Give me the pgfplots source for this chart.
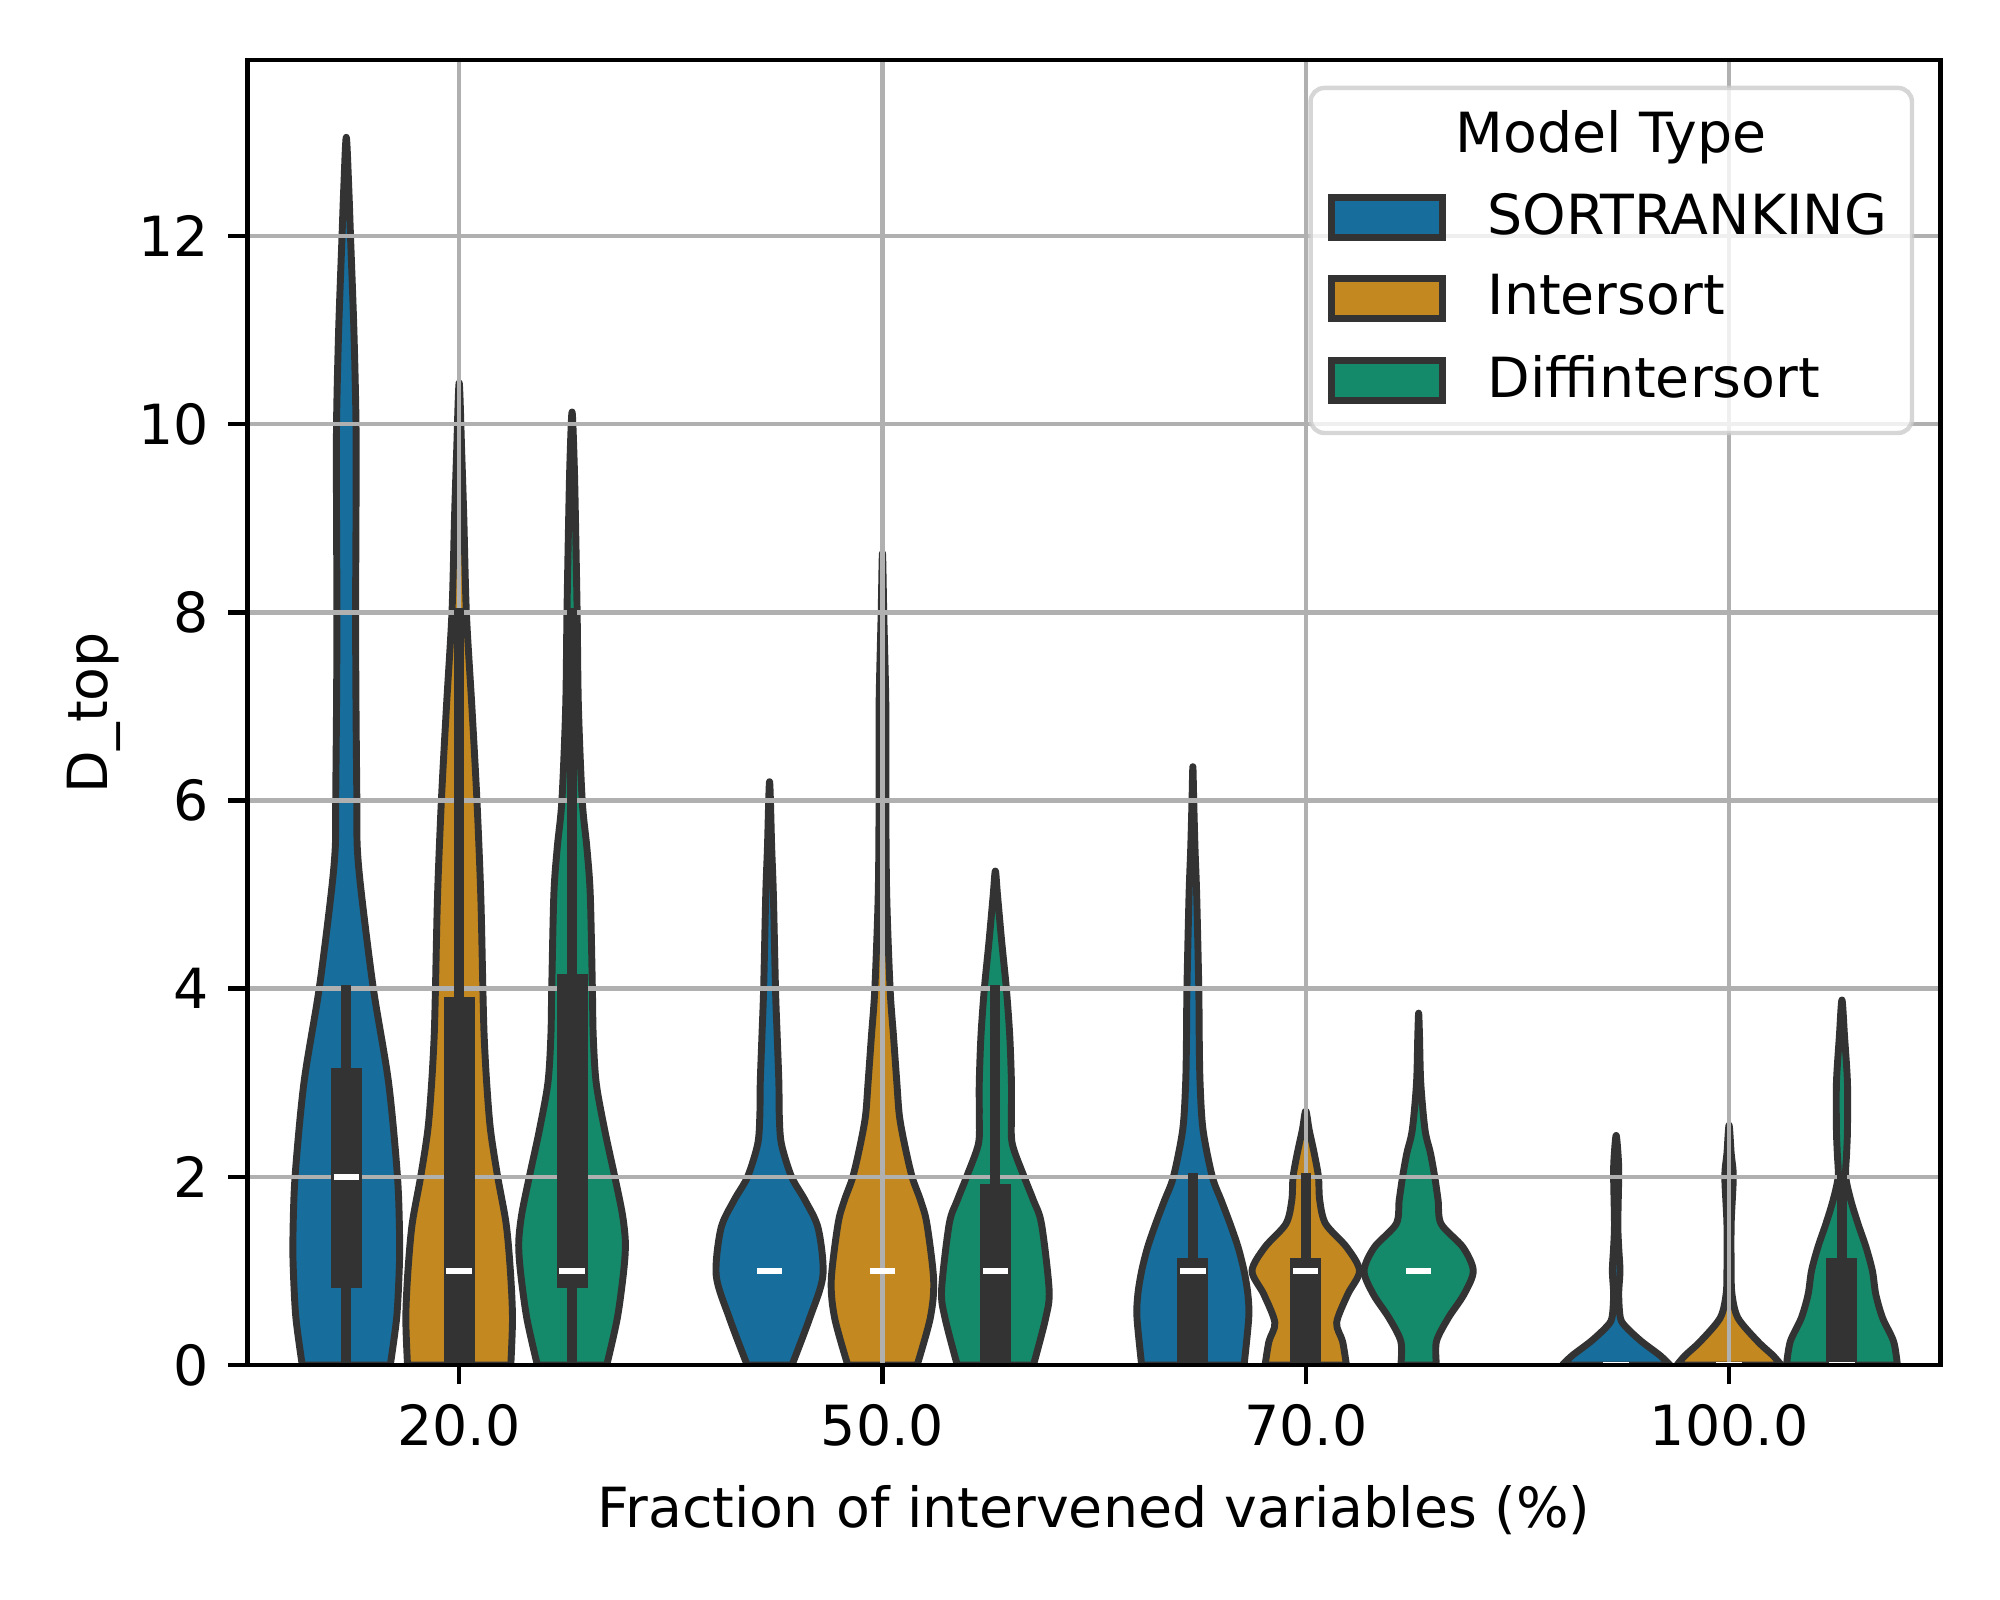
\documentclass[border=0pt]{standalone}
\usepackage{fontspec}
\setmainfont{DejaVu Sans}
\usepackage{pgfplots}
\pgfplotsset{compat=1.18}
\usepackage{pgfplotstable}

\definecolor{cBlue}{HTML}{176D9C}
\definecolor{cOrange}{HTML}{C38820}
\definecolor{cGreen}{HTML}{158A6A}
\definecolor{edge}{HTML}{333333}
\definecolor{gridc}{HTML}{B0B0B0}

% violin outlines: half-width w at height y (right side up, left side down)
\pgfplotstableread{
w y
0.104 0
0.119 0.5
0.125 1
0.126 1.35
0.121 2
0.100 3
0.064 4
0.036 5
0.026 5.5
0.025 6
0.023 7
0.022 8
0.023 9
0.023 10
0.018 11
0.010 12
0.006 12.5
0 13.05
-0.006 12.5
-0.010 12
-0.018 11
-0.023 10
-0.023 9
-0.022 8
-0.023 7
-0.025 6
-0.026 5.5
-0.036 5
-0.064 4
-0.100 3
-0.121 2
-0.126 1.35
-0.125 1
-0.119 0.5
-0.104 0
}\vAA
\pgfplotstableread{
w y
0.122 0
0.126 0.5
0.121 1
0.111 1.5
0.091 2
0.074 2.5
0.065 3
0.059 3.5
0.056 4
0.051 5
0.042 6
0.030 7
0.017 8
0.011 9
0.006 9.7
0 10.44
-0.006 9.7
-0.011 9
-0.017 8
-0.030 7
-0.042 6
-0.051 5
-0.056 4
-0.059 3.5
-0.065 3
-0.074 2.5
-0.091 2
-0.111 1.5
-0.121 1
-0.126 0.5
-0.122 0
}\vAB
\pgfplotstableread{
w y
0.082 0
0.107 0.5
0.122 1
0.126 1.3
0.119 1.6
0.101 2
0.077 2.5
0.057 3
0.050 3.5
0.048 4
0.043 5
0.035 5.5
0.024 6
0.015 7
0.012 8
0.008 9
0.005 9.6
0 10.13
-0.005 9.6
-0.008 9
-0.012 8
-0.015 7
-0.024 6
-0.035 5.5
-0.043 5
-0.048 4
-0.050 3.5
-0.057 3
-0.077 2.5
-0.101 2
-0.119 1.6
-0.126 1.3
-0.122 1
-0.107 0.5
-0.082 0
}\vAC
\pgfplotstableread{
w y
0.053 0
0.095 0.5
0.126 0.95
0.115 1.45
0.084 1.75
0.052 2
0.028 2.35
0.023 2.65
0.022 3
0.018 3.5
0.014 4
0.009 5
0.005 5.5
0 6.2
-0.005 5.5
-0.009 5
-0.014 4
-0.018 3.5
-0.022 3
-0.023 2.65
-0.028 2.35
-0.052 2
-0.084 1.75
-0.115 1.45
-0.126 0.95
-0.095 0.5
-0.053 0
}\vBA
\pgfplotstableread{
w y
0.082 0
0.113 0.5
0.121 0.9
0.105 1.5
0.090 1.75
0.070 2
0.052 2.35
0.040 2.65
0.034 3
0.026 3.5
0.018 4
0.010 5
0.008 6
0.008 7
0.003 8
0 8.63
-0.003 8
-0.008 7
-0.008 6
-0.010 5
-0.018 4
-0.026 3.5
-0.034 3
-0.040 2.65
-0.052 2.35
-0.070 2
-0.090 1.75
-0.105 1.5
-0.121 0.9
-0.113 0.5
-0.082 0
}\vBB
\pgfplotstableread{
w y
0.090 0
0.119 0.5
0.127 0.8
0.109 1.5
0.090 1.75
0.068 2
0.040 2.35
0.038 2.65
0.038 3
0.034 3.5
0.026 4
0.015 4.5
0.005 5
0 5.25
-0.005 5
-0.015 4.5
-0.026 4
-0.034 3.5
-0.038 3
-0.038 2.65
-0.040 2.35
-0.068 2
-0.090 1.75
-0.109 1.5
-0.127 0.8
-0.119 0.5
-0.090 0
}\vBC
\pgfplotstableread{
w y
0.121 0
0.132 0.5
0.130 0.75
0.121 1
0.107 1.25
0.088 1.5
0.067 1.75
0.046 2
0.024 2.5
0.017 3
0.015 3.5
0.014 4
0.009 5
0.005 5.5
0.002 6
0 6.36
-0.002 6
-0.005 5.5
-0.009 5
-0.014 4
-0.015 3.5
-0.017 3
-0.024 2.5
-0.046 2
-0.067 1.75
-0.088 1.5
-0.107 1.25
-0.121 1
-0.130 0.75
-0.132 0.5
-0.121 0
}\vCA
\pgfplotstableread{
w y
0.096 0
0.087 0.25
0.073 0.45
0.099 0.75
0.127 1
0.097 1.25
0.047 1.5
0.033 1.75
0.030 2
0.020 2.25
0.008 2.5
0 2.7
-0.008 2.5
-0.020 2.25
-0.030 2
-0.033 1.75
-0.047 1.5
-0.097 1.25
-0.127 1
-0.099 0.75
-0.073 0.45
-0.087 0.25
-0.096 0
}\vCB
\pgfplotstableread{
w y
0.042 0
0.042 0.25
0.070 0.5
0.107 0.75
0.129 1
0.105 1.25
0.053 1.5
0.046 1.75
0.038 2
0.028 2.25
0.015 2.5
0.005 3
0.002 3.5
0 3.74
-0.002 3.5
-0.005 3
-0.015 2.5
-0.028 2.25
-0.038 2
-0.046 1.75
-0.053 1.5
-0.105 1.25
-0.129 1
-0.107 0.75
-0.070 0.5
-0.042 0.25
-0.042 0
}\vCC
\pgfplotstableread{
w y
0.127 0
0.104 0.1
0.060 0.25
0.024 0.4
0.010 0.5
0.006 0.75
0.009 1
0.006 1.25
0.004 1.5
0.006 2
0.005 2.2
0 2.44
-0.005 2.2
-0.006 2
-0.004 1.5
-0.006 1.25
-0.009 1
-0.006 0.75
-0.010 0.5
-0.024 0.4
-0.060 0.25
-0.104 0.1
-0.127 0
}\vDA
\pgfplotstableread{
w y
0.123 0
0.104 0.1
0.068 0.25
0.021 0.5
0.007 0.75
0.005 1
0.005 1.5
0.010 2
0.005 2.25
0 2.55
-0.005 2.25
-0.010 2
-0.005 1.5
-0.005 1
-0.007 0.75
-0.021 0.5
-0.068 0.25
-0.104 0.1
-0.123 0
}\vDB
\pgfplotstableread{
w y
0.131 0
0.122 0.25
0.096 0.5
0.080 0.75
0.072 1
0.057 1.25
0.038 1.5
0.021 1.75
0.009 2
0.011 2.25
0.013 2.5
0.013 3
0.006 3.5
0 3.88
-0.006 3.5
-0.013 3
-0.013 2.5
-0.011 2.25
-0.009 2
-0.021 1.75
-0.038 1.5
-0.057 1.25
-0.072 1
-0.080 0.75
-0.096 0.5
-0.122 0.25
-0.131 0
}\vDC

\begin{document}
\begin{tikzpicture}
\path[use as bounding box] (-44.72pt,-42.46pt) rectangle (316.63pt,246.62pt);
\begin{axis}[
  scale only axis, width=305.92pt, height=235.75pt,
  xmin=-0.5, xmax=3.5, ymin=0, ymax=13.87,
  axis on top,
  xtick={0,1,2,3}, xticklabels={20.0,50.0,70.0,100.0},
  ytick={0,2,4,6,8,10,12},
  /pgf/number format/assume math mode=true,
  tick align=outside, major tick length=3.5pt, tick pos=left,
  every tick/.style={black, line width=0.8pt},
  axis line style={line width=0.8pt, black},
  xlabel={Fraction of intervened variables (\%)},
  ylabel={D\_top},
  every axis x label/.style={at={(axis description cs:0.5,-0.1242)}, anchor=base},
  every axis y label/.style={at={(axis description cs:-0.0907,0.5)}, anchor=center, rotate=90},
  no markers,
  every axis plot/.append style={forget plot},
  violin/.style={draw=edge, line width=1.25pt, line join=round, smooth, tension=0.5},
  whisk/.style={draw=edge, line width=1.8pt},
  ibox/.style={draw=edge, line width=5.6pt},
  med/.style={draw=white, line width=1pt},
  legend image code/.code={\draw[#1] (0pt,-3.6pt) rectangle (20.1pt,3.6pt);},
  legend cell align=left,
  legend style={at={(axis description cs:1,1)}, anchor=north west,
    xshift=-110.7pt, yshift=-24.0pt, draw=none, fill=none,
    inner sep=0pt, outer sep=0pt, row sep=5.8pt, column sep=7.5pt,
    nodes={inner sep=0pt}},
]
% violins
\addplot[violin, fill=cBlue]   table[x expr=\thisrow{w}-0.2667, y=y] {\vAA} -- cycle;
\addplot[violin, fill=cOrange] table[x expr=\thisrow{w}, y=y] {\vAB} -- cycle;
\addplot[violin, fill=cGreen]  table[x expr=\thisrow{w}+0.2667, y=y] {\vAC} -- cycle;
\addplot[violin, fill=cBlue]   table[x expr=\thisrow{w}+0.7333, y=y] {\vBA} -- cycle;
\addplot[violin, fill=cOrange] table[x expr=\thisrow{w}+1, y=y] {\vBB} -- cycle;
\addplot[violin, fill=cGreen]  table[x expr=\thisrow{w}+1.2667, y=y] {\vBC} -- cycle;
\addplot[violin, fill=cBlue]   table[x expr=\thisrow{w}+1.7333, y=y] {\vCA} -- cycle;
\addplot[violin, fill=cOrange] table[x expr=\thisrow{w}+2, y=y] {\vCB} -- cycle;
\addplot[violin, fill=cGreen]  table[x expr=\thisrow{w}+2.2667, y=y] {\vCC} -- cycle;
\addplot[violin, fill=cBlue]   table[x expr=\thisrow{w}+2.7333, y=y] {\vDA} -- cycle;
\addplot[violin, fill=cOrange] table[x expr=\thisrow{w}+3, y=y] {\vDB} -- cycle;
\addplot[violin, fill=cGreen]  table[x expr=\thisrow{w}+3.2667, y=y] {\vDC} -- cycle;
% grid
\pgfplotsinvokeforeach{2,4,6,8,10,12}{
  \addplot[gridc, line width=0.8pt] coordinates {(-0.5,#1) (3.5,#1)};
}
\pgfplotsinvokeforeach{0,1,2,3}{
  \addplot[gridc, line width=0.8pt] coordinates {(#1,0) (#1,13.87)};
}
% inner boxes
\addplot[whisk] coordinates {(-0.2667,0) (-0.2667,4.04)};
\addplot[ibox]  coordinates {(-0.2667,0.82) (-0.2667,3.16)};
\addplot[med]   coordinates {(-0.2967,2) (-0.2367,2)};
\addplot[whisk] coordinates {(0,0) (0,8.05)};
\addplot[ibox]  coordinates {(0,0) (0,3.91)};
\addplot[med]   coordinates {(-0.03,1) (0.03,1)};
\addplot[whisk] coordinates {(0.2667,0) (0.2667,8.05)};
\addplot[ibox]  coordinates {(0.2667,0.82) (0.2667,4.16)};
\addplot[med]   coordinates {(0.2367,1) (0.2967,1)};
\addplot[med]   coordinates {(0.7033,1) (0.7633,1)};
\addplot[med]   coordinates {(0.97,1) (1.03,1)};
\addplot[whisk] coordinates {(1.2667,0) (1.2667,4.04)};
\addplot[ibox]  coordinates {(1.2667,0) (1.2667,1.92)};
\addplot[med]   coordinates {(1.2367,1) (1.2967,1)};
\addplot[whisk] coordinates {(1.7333,0) (1.7333,2.04)};
\addplot[ibox]  coordinates {(1.7333,0) (1.7333,1.14)};
\addplot[med]   coordinates {(1.7033,1) (1.7633,1)};
\addplot[whisk] coordinates {(2,0) (2,2.04)};
\addplot[ibox]  coordinates {(2,0) (2,1.14)};
\addplot[med]   coordinates {(1.97,1) (2.03,1)};
\addplot[med]   coordinates {(2.2367,1) (2.2967,1)};
\addplot[med]   coordinates {(2.7033,0) (2.7633,0)};
\addplot[med]   coordinates {(2.97,0) (3.03,0)};
\addplot[whisk] coordinates {(3.2667,0) (3.2667,2.04)};
\addplot[ibox]  coordinates {(3.2667,0) (3.2667,1.14)};
\addplot[med]   coordinates {(3.2367,0) (3.2967,0)};
% legend frame and title
\draw[rounded corners=2.5pt, draw=black!20, draw opacity=0.8, fill=white, fill opacity=0.8, line width=0.8pt]
  ([xshift=-5.19pt,yshift=-5.02pt]rel axis cs:1,1) rectangle ([xshift=-113.85pt,yshift=-67.36pt]rel axis cs:1,1);
\node[anchor=base, inner sep=0pt] at ([xshift=-59.52pt,yshift=-16.72pt]rel axis cs:1,1) {Model Type};
\addlegendimage{fill=cBlue, draw=edge, line width=1.25pt}
\addlegendentry{SORTRANKING}
\addlegendimage{fill=cOrange, draw=edge, line width=1.25pt}
\addlegendentry{Intersort}
\addlegendimage{fill=cGreen, draw=edge, line width=1.25pt}
\addlegendentry{Diffintersort}
\end{axis}
\end{tikzpicture}
\end{document}
